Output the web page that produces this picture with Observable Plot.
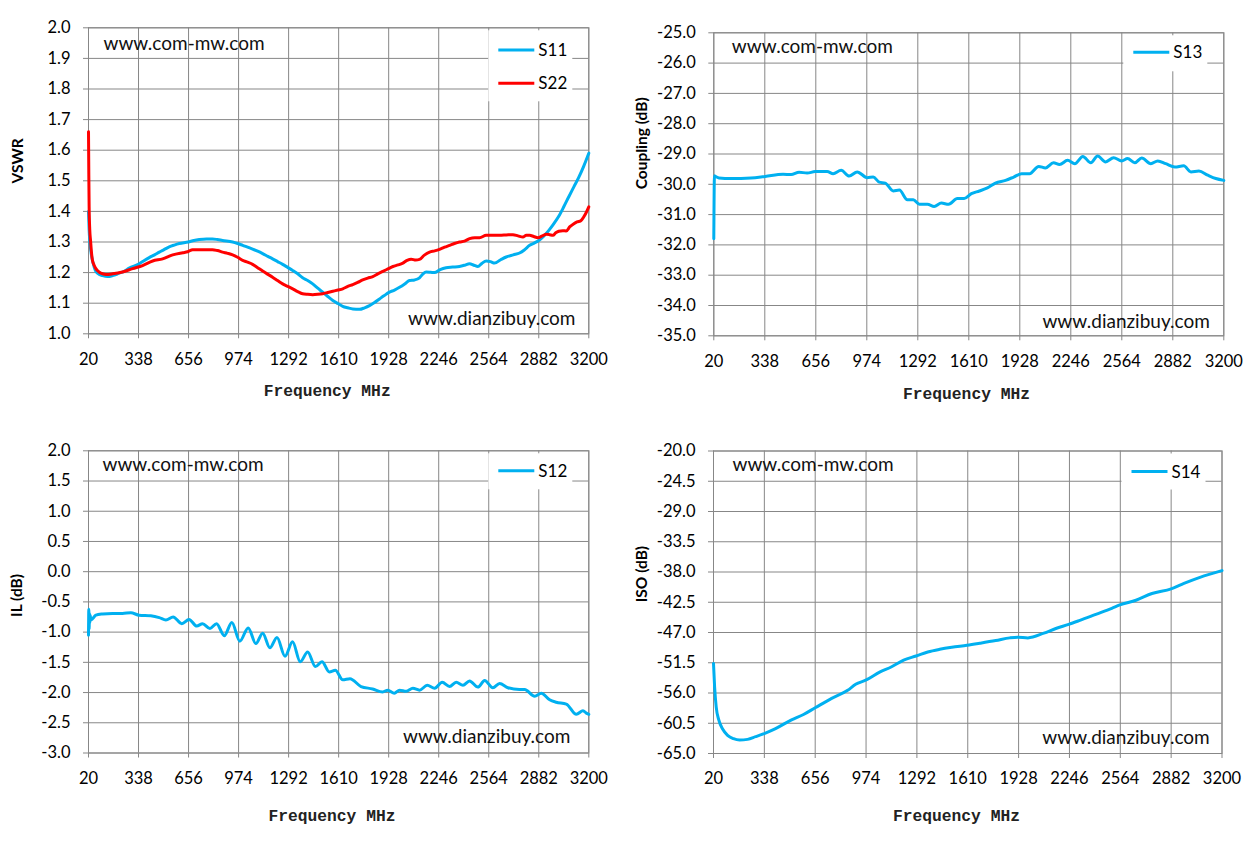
<!DOCTYPE html>
<html><head><meta charset="utf-8">
<script src="https://cdn.jsdelivr.net/npm/d3@7"></script>
<script src="https://cdn.jsdelivr.net/npm/@observablehq/plot@0.6"></script>
<style>
html,body{margin:0;padding:0;background:#fff;}
#wrap{position:relative;width:1259px;height:845px;overflow:hidden;background:#fff;}
#wrap > svg{position:absolute;overflow:visible;}
</style></head><body><div id="wrap"></div>
<script>
// ---------- shared axis values ----------
const xTickValues = [20, 338, 656, 974, 1292, 1610, 1928, 2246, 2564, 2882, 3200];
const vswrTicks = [1.0, 1.1, 1.2, 1.3, 1.4, 1.5, 1.6, 1.7, 1.8, 1.9, 2.0];
const couplingTicks = [-35, -34, -33, -32, -31, -30, -29, -28, -27, -26, -25];
const ilTicks = [-3.0, -2.5, -2.0, -1.5, -1.0, -0.5, 0.0, 0.5, 1.0, 1.5, 2.0];
const isoTicks = [-65.0, -60.5, -56.0, -51.5, -47.0, -42.5, -38.0, -33.5, -29.0, -24.5, -20.0];

// ---------- series (frequency MHz, value) ----------
const s11Freq = [20,24,28,35,41,50,56,66,77,92,109,141,173,215,250,279,336,370,406,440,470,500,533,565,597,654,690,724,770,808,840,872,936,968,1000,1063,1095,1127,1160,1190,1222,1254,1286,1318,1350,1381,1413,1445,1477,1509,1541,1573,1605,1636,1668,1700,1742,1775,1806,1838,1870,1900,1933,1965,1997,2030,2060,2092,2124,2145,2166,2195,2219,2255,2293,2335,2378,2410,2442,2470,2495,2520,2548,2575,2601,2640,2675,2720,2760,2790,2824,2855,2882,2915,2946,2978,3009,3041,3073,3105,3136,3168,3200];
const s11 = [1.40,1.34,1.305,1.27,1.25,1.23,1.218,1.205,1.198,1.193,1.19,1.187,1.19,1.198,1.205,1.215,1.227,1.238,1.249,1.258,1.267,1.275,1.284,1.29,1.295,1.30,1.305,1.308,1.31,1.31,1.308,1.305,1.30,1.295,1.289,1.277,1.27,1.262,1.253,1.245,1.236,1.227,1.217,1.207,1.196,1.183,1.174,1.163,1.149,1.136,1.122,1.109,1.099,1.09,1.085,1.081,1.08,1.085,1.092,1.102,1.114,1.125,1.136,1.143,1.152,1.163,1.174,1.176,1.183,1.195,1.202,1.201,1.20,1.21,1.216,1.218,1.22,1.224,1.229,1.224,1.22,1.23,1.238,1.236,1.231,1.242,1.251,1.258,1.264,1.274,1.289,1.297,1.305,1.32,1.338,1.36,1.384,1.415,1.448,1.48,1.511,1.548,1.59];

const s22Freq = [20,22,24,28,33,40,45,55,67,80,98,130,173,236,300,364,428,491,555,619,650,682,746,808,840,872,904,936,968,1000,1031,1063,1095,1127,1158,1190,1222,1254,1286,1318,1350,1381,1413,1445,1477,1509,1541,1573,1605,1636,1668,1700,1731,1763,1795,1827,1859,1891,1923,1955,1987,2018,2045,2071,2100,2124,2155,2188,2220,2251,2283,2315,2346,2378,2410,2442,2475,2506,2548,2590,2633,2675,2718,2750,2781,2803,2824,2850,2877,2905,2930,2950,2972,2990,3009,3035,3056,3080,3105,3125,3148,3175,3200];
const s22 = [1.66,1.52,1.415,1.34,1.305,1.26,1.24,1.225,1.213,1.205,1.198,1.194,1.196,1.202,1.213,1.223,1.238,1.245,1.258,1.265,1.268,1.275,1.275,1.275,1.272,1.267,1.263,1.258,1.25,1.24,1.234,1.227,1.216,1.205,1.195,1.185,1.174,1.163,1.155,1.147,1.138,1.131,1.129,1.128,1.129,1.131,1.135,1.139,1.143,1.147,1.155,1.161,1.168,1.176,1.182,1.187,1.196,1.204,1.212,1.22,1.225,1.231,1.24,1.244,1.241,1.243,1.257,1.267,1.271,1.276,1.283,1.289,1.295,1.30,1.303,1.311,1.314,1.314,1.322,1.322,1.322,1.323,1.324,1.32,1.316,1.322,1.322,1.318,1.314,1.32,1.325,1.324,1.322,1.33,1.335,1.337,1.336,1.35,1.36,1.366,1.369,1.388,1.415];

const s13Freq = [20,24,27,52,127,252,340,452,502,552,602,652,727,764,814,864,914,977,1014,1052,1089,1139,1177,1227,1264,1302,1352,1394,1439,1484,1539,1581,1626,1676,1726,1776,1839,1890,1939,1989,2046,2088,2138,2176,2226,2271,2321,2371,2413,2463,2513,2563,2600,2645,2688,2745,2788,2838,2895,2950,2995,3045,3100,3150,3200];
const s13 = [-31.8,-29.72,-29.73,-29.79,-29.81,-29.79,-29.74,-29.67,-29.68,-29.60,-29.63,-29.58,-29.58,-29.65,-29.54,-29.73,-29.59,-29.78,-29.76,-29.93,-29.96,-30.22,-30.19,-30.51,-30.51,-30.66,-30.66,-30.73,-30.62,-30.66,-30.47,-30.47,-30.31,-30.22,-30.12,-29.96,-29.87,-29.76,-29.65,-29.65,-29.41,-29.46,-29.29,-29.35,-29.21,-29.32,-29.08,-29.29,-29.07,-29.26,-29.12,-29.23,-29.15,-29.29,-29.13,-29.32,-29.23,-29.32,-29.43,-29.39,-29.59,-29.56,-29.70,-29.81,-29.87];

const s12Freq = [20,22,24,26,28,31,35,45,67,109,173,236,289,342,416,470,512,558,613,659,708,745,792,834,883,931,982,1035,1084,1127,1173,1218,1269,1317,1366,1413,1462,1504,1551,1589,1636,1682,1752,1826,1890,1922,1964,1997,2039,2082,2124,2173,2220,2268,2315,2357,2400,2442,2495,2538,2590,2633,2686,2759,2792,2856,2898,2951,2993,3057,3121,3163,3184,3200];
const s12 = [-1.05,-0.62,-0.95,-0.68,-0.85,-0.72,-0.80,-0.78,-0.72,-0.70,-0.69,-0.69,-0.68,-0.72,-0.73,-0.76,-0.80,-0.75,-0.86,-0.79,-0.90,-0.86,-0.94,-0.86,-1.06,-0.84,-1.15,-0.93,-1.19,-1.02,-1.26,-1.09,-1.40,-1.16,-1.49,-1.33,-1.57,-1.49,-1.66,-1.63,-1.79,-1.77,-1.90,-1.94,-1.99,-1.96,-2.01,-1.96,-1.98,-1.93,-1.96,-1.88,-1.93,-1.83,-1.90,-1.83,-1.88,-1.81,-1.91,-1.80,-1.92,-1.85,-1.92,-1.95,-1.95,-2.06,-2.01,-2.12,-2.16,-2.19,-2.36,-2.30,-2.34,-2.36];

const s14Freq = [20,27,37,53,78,108,145,183,233,283,341,408,508,583,656,759,859,909,972,1059,1134,1209,1287,1360,1435,1510,1605,1685,1785,1873,1923,1986,2086,2161,2241,2311,2411,2511,2561,2662,2762,2882,2962,3062,3200];
const s14 = [-51.6,-55.1,-58.1,-60.0,-61.4,-62.3,-62.8,-63.0,-62.9,-62.5,-62.0,-61.3,-60.0,-59.2,-58.2,-56.8,-55.6,-54.7,-54.1,-52.9,-52.1,-51.1,-50.5,-49.9,-49.5,-49.2,-48.9,-48.6,-48.2,-47.8,-47.7,-47.8,-47.1,-46.4,-45.8,-45.2,-44.3,-43.4,-42.9,-42.2,-41.2,-40.5,-39.7,-38.8,-37.8];

const BLUE = "#00B0F0", RED = "#FF0000", GRID = "#878787";
const FONT = "Lato, 'Open Sans', sans-serif";
const zip = (f, v) => f.map((d, i) => ({f: d, v: v[i]}));

function panel(c) {
  const fr = {x0: c.m.left, x1: c.width - c.m.right, y0: c.m.top, y1: c.height - c.m.bottom};
  const fmt = d => d.toFixed(1);
  const svg = Plot.plot({
    width: c.width, height: c.height,
    marginLeft: c.m.left, marginRight: c.m.right, marginTop: c.m.top, marginBottom: c.m.bottom,
    style: {fontFamily: FONT, fontSize: "16px", background: "transparent", color: "#000"},
    x: {domain: [20, 3200]},
    y: {domain: c.yDomain},
    marks: [
      Plot.gridX(xTickValues, {stroke: GRID, strokeOpacity: 1, strokeWidth: 1}),
      Plot.gridY(c.yTicks, {stroke: GRID, strokeOpacity: 1, strokeWidth: 1}),
      Plot.frame({stroke: GRID, strokeWidth: 1}),
      Plot.axisX(xTickValues, {tickSize: 5, tickPadding: 14, stroke: GRID, fill: "#000", tickFormat: d => String(d), label: null, fontSize: 16.5}),
      Plot.axisY(c.yTicks, {tickSize: 5, tickPadding: 13, stroke: GRID, fill: "#000", tickFormat: fmt, label: null, fontSize: 16.5}),
      ...c.series.map(s => Plot.line(s.data, {x: "f", y: "v", stroke: s.color, strokeWidth: 3, curve: "monotone-x"})),
      Plot.text(["www.com-mw.com"], {frameAnchor: "top-left", dx: c.wm1[0], dy: c.wm1[1], textAnchor: "start", lineAnchor: "middle", fontSize: 19, fill: "#111"}),
      Plot.text(["www.dianzibuy.com"], {frameAnchor: "bottom-right", dx: c.wm2[0], dy: c.wm2[1], textAnchor: "end", lineAnchor: "middle", fontSize: 19, fill: "#111"}),
      Plot.text(["Frequency MHz"], {frameAnchor: "bottom", dx: c.xt[0], dy: c.xt[1], lineAnchor: "middle", fontFamily: "'Liberation Mono', monospace", fontWeight: "bold", fontSize: 16.3, fill: "#222"}),
      Plot.text([c.yTitle], {frameAnchor: "left", dx: c.yt[0], dy: c.yt[1], rotate: -90, lineAnchor: "middle", fontWeight: "bold", fontSize: 15.5, fill: "#000"})
    ]
  });
  svg.style.left = c.left + "px";
  svg.style.top = c.top + "px";
  // legend box (white background over the grid)
  const g = d3.select(svg).append("g").attr("font-family", FONT).attr("font-size", 17).attr("text-anchor", "start");
  const h = c.series.length === 1 ? 36 : 71;
  g.append("rect").attr("x", fr.x1 - 100).attr("y", fr.y0 + 3).attr("width", 84).attr("height", h).attr("fill", "#fff");
  c.series.forEach((s, i) => {
    const y = fr.y0 + c.ly + i * 33.3;
    g.append("line").attr("x1", fr.x1 - 90).attr("x2", fr.x1 - 54).attr("y1", y).attr("y2", y)
      .attr("stroke", s.color).attr("stroke-width", 3);
    g.append("text").attr("x", fr.x1 - 50).attr("y", y).attr("dy", "0.36em").attr("text-anchor", "start").attr("fill", "#000").text(s.name);
  });
  document.getElementById("wrap").appendChild(svg);
}

panel({left: 0, top: 0, width: 630, height: 420, m: {left: 88, right: 41.7, top: 27.3, bottom: 86.7},
  yDomain: [1, 2], yTicks: vswrTicks, yTitle: "VSWR",
  series: [{name: "S11", color: BLUE, data: zip(s11Freq, s11)}, {name: "S22", color: RED, data: zip(s22Freq, s22)}],
  wm1: [15, 16], wm2: [-13.3, -15.3], xt: [-11.5, 56.7], yt: [-70, 2.7], ly: 22.7});

panel({left: 629, top: 0, width: 630, height: 420, m: {left: 84.3, right: 35.7, top: 32.3, bottom: 84.7},
  yDomain: [-35, -25], yTicks: couplingTicks, yTitle: "Coupling (dB)",
  series: [{name: "S13", color: BLUE, data: zip(s13Freq, s13)}],
  wm1: [18, 14.3], wm2: [-14, -13.7], xt: [-2.3, 57.7], yt: [-71.6, 5], ly: 20});

panel({left: 0, top: 420, width: 630, height: 425, m: {left: 88, right: 41.7, top: 30.3, bottom: 92.5},
  yDomain: [-3, 2], yTicks: ilTicks, yTitle: "IL (dB)",
  series: [{name: "S12", color: BLUE, data: zip(s12Freq, s12)}],
  wm1: [14, 14.3], wm2: [-18.4, -15.8], xt: [-6.7, 63.2], yt: [-71.5, 15], ly: 20.5});

panel({left: 629, top: 420, width: 630, height: 425, m: {left: 84, right: 37.5, top: 30.5, bottom: 92},
  yDomain: [-65, -20], yTicks: isoTicks, yTitle: "ISO (dB)",
  series: [{name: "S14", color: BLUE, data: zip(s14Freq, s14)}],
  wm1: [19, 14.3], wm2: [-12.3, -15.8], xt: [-11.3, 62.7], yt: [-71, 0], ly: 21});
</script>
</body></html>
